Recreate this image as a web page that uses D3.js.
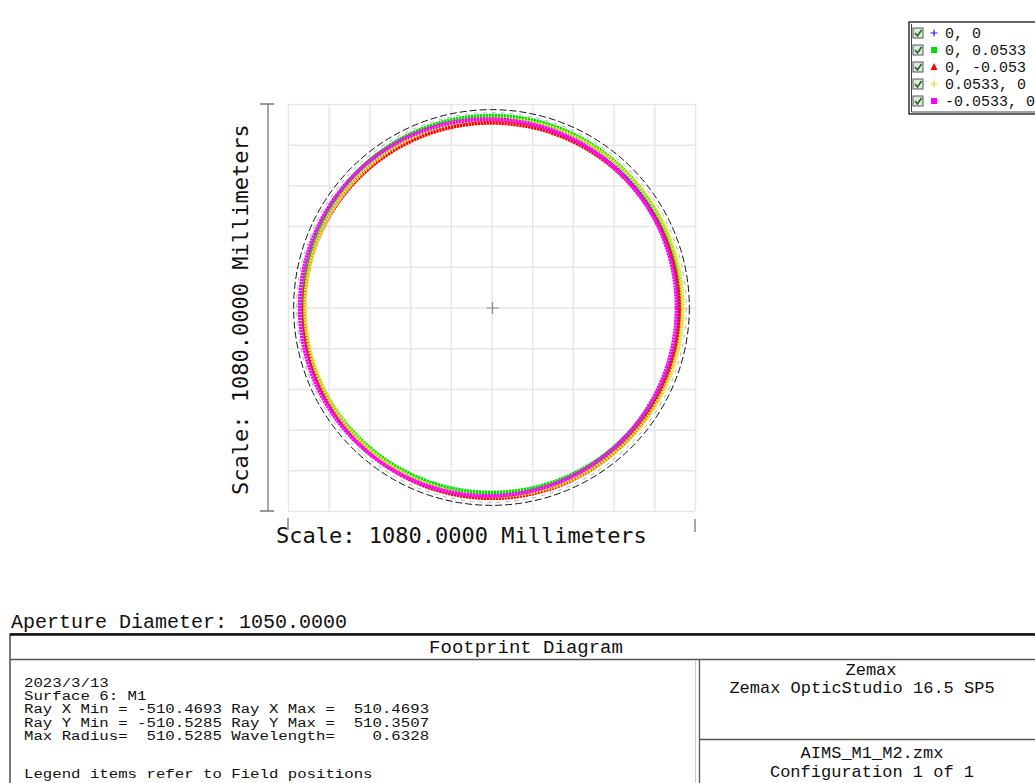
<!DOCTYPE html>
<html>
<head>
<meta charset="utf-8">
<script src="https://cdn.jsdelivr.net/npm/d3@7"></script>
<style>
  html, body { margin: 0; padding: 0; background: #fff; }
  svg { display: block; }
  text { white-space: pre; }
</style>
</head>
<body>
<svg id="chart" width="1035" height="783"></svg>
<script>
// ---------- data ----------
const fieldLabels = ["0, 0", "0, 0.0533", "0, -0.053", "0.0533, 0", "-0.0533, 0"];
const fieldColors = ["#2020ff", "#00e000", "#ff0000", "#e0e040", "#ff00ff"];
const fieldMarkers = ["plus", "square", "triangle", "plus", "square"];
// footprint centre offsets and radii (mm)
const footX = [0, 0, 0, 6.5, -9];
const footY = [0, 9, -8, 0, 0];
const footR = [500, 500, 498, 501, 500];
const apertureDiameter = 1050;
const scaleMM = 1080;
const gridTicks = [-540, -432, -324, -216, -108, 0, 108, 216, 324, 432, 540];
const apertureText = "Aperture Diameter: 1050.0000";
const titleText = "Footprint Diagram";
const infoLines = [
  "2023/3/13",
  "Surface 6: M1",
  "Ray X Min = -510.4693 Ray X Max =  510.4693",
  "Ray Y Min = -510.5285 Ray Y Max =  510.3507",
  "Max Radius=  510.5285 Wavelength=    0.6328"
];
const legendNote = "Legend items refer to Field positions";
const rightTop = ["Zemax", "Zemax OpticStudio 16.5 SP5"];
const rightBottom = ["AIMS_M1_M2.zmx", "Configuration 1 of 1"];
const scaleLabel = "Scale: 1080.0000 Millimeters";

// ---------- layout ----------
const svg = d3.select("#chart");
const plot = { x0: 288, x1: 695, y0: 104, y1: 511 };
const x = d3.scaleLinear().domain([-scaleMM / 2, scaleMM / 2]).range([plot.x0, plot.x1]);
const y = d3.scaleLinear().domain([-scaleMM / 2, scaleMM / 2]).range([plot.y1, plot.y0]);
const pxPerMM = (plot.x1 - plot.x0) / scaleMM;

// grid via axes
const gx = svg.append("g").attr("transform", `translate(0,${plot.y1})`)
  .call(d3.axisBottom(x).tickValues(gridTicks).tickSize(-(plot.y1 - plot.y0)).tickFormat(""));
const gy = svg.append("g").attr("transform", `translate(${plot.x0},0)`)
  .call(d3.axisLeft(y).tickValues(gridTicks).tickSize(-(plot.x1 - plot.x0)).tickFormat(""));
[gx, gy].forEach(g => {
  g.select(".domain").remove();
  g.selectAll(".tick line").attr("stroke", "#e6e6e6").attr("stroke-width", 1.5);
});

// aperture circle (dashed)
svg.append("circle")
  .attr("cx", x(0)).attr("cy", y(0))
  .attr("r", apertureDiameter / 2 * pxPerMM)
  .attr("fill", "none").attr("stroke", "#111").attr("stroke-width", 1)
  .attr("stroke-dasharray", "7,3");
svg.append("circle")
  .attr("cx", x(0)).attr("cy", y(0))
  .attr("r", apertureDiameter / 2 * pxPerMM - 3)
  .attr("fill", "none").attr("stroke", "#777").attr("stroke-width", 0.8)
  .attr("stroke-dasharray", "4,5").attr("opacity", 0.7);

// footprints
svg.append("g").selectAll("circle.fp")
  .data(fieldLabels.map((d, i) => i))
  .join("circle")
  .attr("class", "fp")
  .attr("cx", i => x(footX[i]))
  .attr("cy", i => y(footY[i]))
  .attr("r", i => footR[i] * pxPerMM)
  .attr("fill", "none")
  .attr("stroke", i => fieldColors[i])
  .attr("stroke-width", 3.8)
  .attr("stroke-dasharray", "2.4,0.6");

// centre cross
const cx0 = x(0) + 1, cy0 = y(0) + 0.5;
svg.append("path")
  .attr("d", `M${cx0 - 6},${cy0}H${cx0 + 6}M${cx0},${cy0 - 6}V${cy0 + 6}`)
  .attr("stroke", "#888").attr("stroke-width", 1.2);

// left scale bar
const sbx = 268;
svg.append("path")
  .attr("d", `M${sbx},${plot.y0}V${plot.y1}M${sbx - 8},${plot.y0}H${sbx + 6}M${sbx - 8},${plot.y1}H${sbx + 6}`)
  .attr("stroke", "#777").attr("stroke-width", 1.3).attr("fill", "none");
// bottom ticks
svg.append("path")
  .attr("d", `M${plot.x0},${plot.y1 + 7}V${plot.y1 + 19}M${plot.x1},${plot.y1 + 8}V${plot.y1 + 21}`)
  .attr("stroke", "#777").attr("stroke-width", 1.3);

const monoBig = "'DejaVu Sans Mono', monospace";
svg.append("text")
  .attr("x", 276).attr("y", 543)
  .attr("font-family", monoBig).attr("font-size", 22).attr("fill", "#111")
  .text(scaleLabel);
svg.append("text")
  .attr("transform", "translate(248,495) rotate(-90)")
  .attr("font-family", monoBig).attr("font-size", 22).attr("fill", "#111")
  .text(scaleLabel);

// legend
const lg = svg.append("g");
const lgx = 909, lgy = 22, rowH = 17;
lg.append("rect").attr("x", lgx).attr("y", lgy).attr("width", 140).attr("height", 92)
  .attr("fill", "#fff").attr("stroke", "#000").attr("stroke-width", 1.2);
lg.append("path").attr("d", `M${lgx + 2.5},${lgy + 2}V${lgy + 90}H${lgx + 140}`)
  .attr("stroke", "#444").attr("stroke-width", 1).attr("fill", "none");
fieldLabels.forEach((lab, i) => {
  const ry = lgy + 11 + i * rowH;
  lg.append("rect").attr("x", 913).attr("y", ry - 5).attr("width", 10).attr("height", 10)
    .attr("fill", "#dfe8df").attr("stroke", "#555").attr("stroke-width", 1);
  lg.append("path").attr("d", `M915,${ry}L917.5,${ry + 3}L921.5,${ry - 3}`)
    .attr("stroke", "#1a6a1a").attr("stroke-width", 1.6).attr("fill", "none");
  const mx = 934, col = fieldColors[i];
  if (fieldMarkers[i] === "plus") {
    lg.append("path").attr("d", `M${mx - 3.5},${ry}H${mx + 3.5}M${mx},${ry - 3.5}V${ry + 3.5}`)
      .attr("stroke", col).attr("stroke-width", 1.2);
  } else if (fieldMarkers[i] === "square") {
    lg.append("rect").attr("x", mx - 3).attr("y", ry - 3).attr("width", 6).attr("height", 6).attr("fill", col);
  } else {
    lg.append("path").attr("d", `M${mx},${ry - 4}L${mx + 3.5},${ry + 3}L${mx - 3.5},${ry + 3}Z`).attr("fill", col);
  }
  lg.append("text").attr("x", 945).attr("y", ry + 5)
    .attr("font-family", "'Liberation Mono', monospace").attr("font-size", 15).attr("fill", "#111")
    .text(lab);
});

// bottom info block
const mono = "'Liberation Mono', monospace";
svg.append("text").attr("x", 11).attr("y", 628)
  .attr("font-family", mono).attr("font-size", 20).attr("fill", "#111").text(apertureText);

svg.append("defs").append("clipPath").attr("id", "rightClip")
  .append("rect").attr("x", 700).attr("y", 664).attr("width", 340).attr("height", 130);

const tb = svg.append("g");
tb.append("rect").attr("x", 10).attr("y", 634).attr("width", 1040).attr("height", 200)
  .attr("fill", "none").attr("stroke", "#222").attr("stroke-width", 1.2);
tb.append("line").attr("x1", 10).attr("x2", 1035).attr("y1", 634.5).attr("y2", 634.5)
  .attr("stroke", "#111").attr("stroke-width", 2.5);
tb.append("line").attr("x1", 10).attr("x2", 1035).attr("y1", 659.5).attr("y2", 659.5)
  .attr("stroke", "#555").attr("stroke-width", 1.3);
tb.append("line").attr("x1", 699.5).attr("x2", 699.5).attr("y1", 660).attr("y2", 783)
  .attr("stroke", "#555").attr("stroke-width", 1.3);
tb.append("line").attr("x1", 695.5).attr("x2", 695.5).attr("y1", 660).attr("y2", 783)
  .attr("stroke", "#ccc").attr("stroke-width", 1);
tb.append("line").attr("x1", 700).attr("x2", 1035).attr("y1", 739.5).attr("y2", 739.5)
  .attr("stroke", "#555").attr("stroke-width", 1.3);
tb.append("text").attr("x", 526).attr("y", 653).attr("text-anchor", "middle")
  .attr("font-family", mono).attr("font-size", 19).attr("fill", "#111").text(titleText);

// info lines: tightly spaced, stretched horizontally to the original's width
const charW = 9.42;
infoLines.forEach((t, i) => {
  tb.append("text").attr("x", 24).attr("y", 687 + i * 13.2)
    .attr("font-family", mono).attr("font-size", 12.5).attr("fill", "#111")
    .attr("textLength", t.length * charW).attr("lengthAdjust", "spacingAndGlyphs")
    .text(t);
});
tb.append("text").attr("x", 24).attr("y", 778)
  .attr("font-family", mono).attr("font-size", 13.5).attr("fill", "#111")
  .attr("textLength", legendNote.length * charW).attr("lengthAdjust", "spacingAndGlyphs")
  .text(legendNote);

const rg = tb.append("g").attr("clip-path", "url(#rightClip)");
rightTop.forEach((t, i) => {
  rg.append("text").attr("x", i === 0 ? 871 : 862).attr("y", 675 + i * 18).attr("text-anchor", "middle")
    .attr("font-family", mono).attr("font-size", 17).attr("fill", "#111").text(t);
});
rightBottom.forEach((t, i) => {
  rg.append("text").attr("x", 872).attr("y", 758 + i * 19).attr("text-anchor", "middle")
    .attr("font-family", mono).attr("font-size", 17).attr("fill", "#111").text(t);
});
</script>
</body>
</html>
